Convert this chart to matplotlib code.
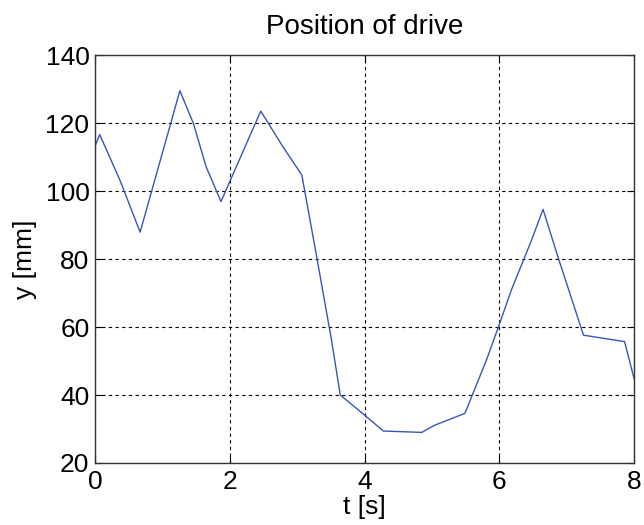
import matplotlib
matplotlib.use("Agg")
import matplotlib.pyplot as plt

# data
t = [0.0, 0.07, 0.37, 0.67, 1.26, 1.46, 1.65, 1.87, 2.46, 2.79, 3.07,
     3.29, 3.51, 3.64, 4.0, 4.28, 4.85, 5.04, 5.49, 5.56, 5.81, 5.98,
     6.18, 6.48, 6.65, 6.87, 7.25, 7.86, 8.0]
y = [113.2, 116.6, 103.2, 87.9, 129.5, 119.9, 107.1, 96.9, 123.5, 113.0, 104.7,
     80.7, 56.2, 40.0, 34.1, 29.4, 29.0, 31.1, 34.6, 38.0, 50.3, 59.6,
     70.9, 85.6, 94.6, 80.7, 57.6, 55.7, 44.9]

xticks = [0, 2, 4, 6, 8]
yticks = [20, 40, 60, 80, 100, 120, 140]

plt.rcParams['font.family'] = ['Liberation Sans', 'DejaVu Sans']

fig = plt.figure(figsize=(6.44, 5.25), dpi=100)
ax = fig.add_axes([0.1475, 0.1181, 0.837, 0.7771])

ax.plot(t, y, color='#3a55b8', linewidth=1.0)

ax.set_xlim(0, 8)
ax.set_ylim(20, 140)
ax.set_xticks(xticks)
ax.set_yticks(yticks)

ax.grid(True, color='black', linestyle=(0, (3, 3)), linewidth=0.8)
ax.tick_params(direction='in', length=5, width=0.8, labelsize=19,
               top=True, right=True, pad=4)
ax.tick_params(axis='x', pad=5)
for s in ax.spines.values():
    s.set_color('#333333')
    s.set_linewidth(1.0)

ax.set_title("Position of drive", fontsize=20, pad=15)
ax.set_xlabel("t [s]", fontsize=19, labelpad=1)
ax.set_ylabel("y [mm]", fontsize=19, labelpad=6)

fig.savefig("out.png", dpi=100)
